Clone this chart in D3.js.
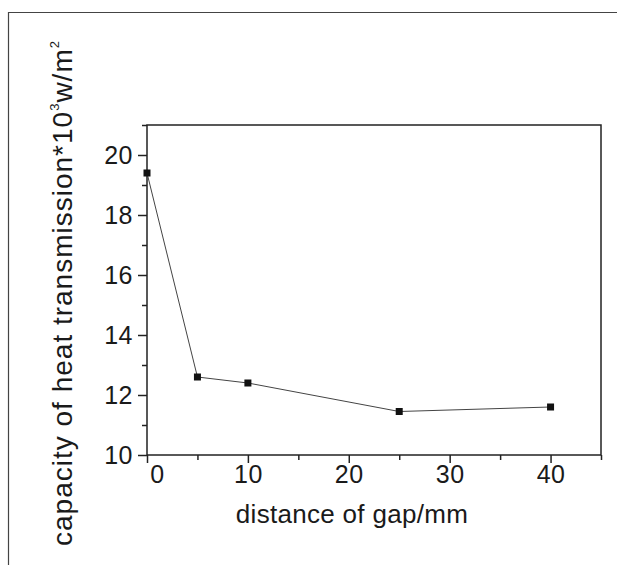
<!DOCTYPE html>
<meta charset="utf-8">
<head>
  <title>capacity of heat transmission</title>
  <style>
    body { margin: 0; background: #fff; }
    text { font-family: "Liberation Sans", Arial, sans-serif; fill: #1a1a1a; }
  </style>
</head>
<script src="https://d3js.org/d3.v7.min.js"></script>
<div id="my_dataviz"></div>
<script>

// data
var gap = [0, 5, 10, 25, 40];
var capacity = [19.4, 12.6, 12.4, 11.45, 11.6];
var xTicks = [0, 10, 20, 30, 40];
var xMinor = [5, 15, 25, 35, 45];
var yTicks = [10, 12, 14, 16, 18, 20];
var yMinor = [11, 13, 15, 17, 19, 21];

var data = gap.map(function(g, i) { return {gap: g, cap: capacity[i]}; });

var width = 617, height = 565;
var margin = {top: 125, right: 16, bottom: 110, left: 147};

var svg = d3.select("#my_dataviz")
  .append("svg")
    .attr("width", width)
    .attr("height", height);

// outer frame (top and left edges only)
svg.append("path")
  .attr("d", "M8.5,565 L8.5,12.5 L617,12.5")
  .attr("fill", "none")
  .attr("stroke", "#444")
  .attr("stroke-width", 1.2);

var x = d3.scaleLinear().domain([0, 45]).range([margin.left, width - margin.right]);
var y = d3.scaleLinear().domain([10, 21]).range([height - margin.bottom, margin.top]);

// plot box
svg.append("rect")
  .attr("x", x(0)).attr("y", y(21))
  .attr("width", x(45) - x(0)).attr("height", y(10) - y(21))
  .attr("fill", "none")
  .attr("stroke", "#222")
  .attr("stroke-width", 1.5);

// minor ticks
svg.append("g")
  .attr("transform", "translate(0," + y(10) + ")")
  .call(d3.axisBottom(x).tickValues(xMinor).tickSize(5).tickFormat(""))
  .call(function(g) { g.select(".domain").remove(); });
svg.append("g")
  .attr("transform", "translate(" + x(0) + ",0)")
  .call(d3.axisLeft(y).tickValues(yMinor).tickSize(5).tickFormat(""))
  .call(function(g) { g.select(".domain").remove(); });

// major axes
var xAxis = svg.append("g")
  .attr("transform", "translate(0," + y(10) + ")")
  .call(d3.axisBottom(x).tickValues(xTicks).tickSize(8).tickPadding(2).tickFormat(d3.format("d")));
xAxis.select(".domain").remove();
xAxis.selectAll("text").style("font-size", "25px").style("letter-spacing", "0.5px");
xAxis.selectAll("text").filter(function(d) { return d === 0; }).attr("dx", "10");

var yAxis = svg.append("g")
  .attr("transform", "translate(" + x(0) + ",0)")
  .call(d3.axisLeft(y).tickValues(yTicks).tickSize(9).tickPadding(5).tickFormat(d3.format("d")));
yAxis.select(".domain").remove();
yAxis.selectAll("text").style("font-size", "25px").style("letter-spacing", "0.5px");

svg.selectAll(".tick line").attr("stroke", "#222").attr("stroke-width", 1.5);

// the series
var line = d3.line()
  .x(function(d) { return x(d.gap); })
  .y(function(d) { return y(d.cap); });

svg.append("path")
  .attr("d", line(data))
  .attr("fill", "none")
  .attr("stroke", "#444")
  .attr("stroke-width", 1);

svg.selectAll(".pt")
  .data(data)
  .enter().append("rect")
    .attr("class", "pt")
    .attr("x", function(d) { return x(d.gap) - 3.5; })
    .attr("y", function(d) { return y(d.cap) - 3.5; })
    .attr("width", 7)
    .attr("height", 7)
    .attr("fill", "#111");

// axis titles
svg.append("text")
  .attr("x", 352)
  .attr("y", 523)
  .attr("text-anchor", "middle")
  .style("font-size", "26px")
  .style("letter-spacing", "0.3px")
  .text("distance of gap/mm");

var yt = svg.append("text")
  .attr("transform", "translate(72,293) rotate(-90)")
  .attr("text-anchor", "middle")
  .style("font-size", "28px")
  .style("letter-spacing", "1px");
yt.append("tspan").text("capacity of heat transmission*10");
yt.append("tspan").attr("dy", "-13").style("font-size", "13px").text("3");
yt.append("tspan").attr("dy", "13").text("w/m");
yt.append("tspan").attr("dy", "-13").style("font-size", "13px").text("2");

</script>
